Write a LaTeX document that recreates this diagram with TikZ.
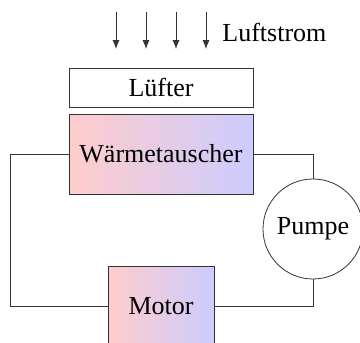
\documentclass[tikz,border=0pt]{standalone}
\usepackage{fontspec}
\setmainfont{Liberation Serif}
\usepackage{xcolor}
\usepackage{tikz}
\usetikzlibrary{arrows.meta}

\begin{document}
\begin{tikzpicture}[x=1pt,y=-1pt,line width=0.8pt,draw=black!80,
    every node/.style={font=\fontsize{26}{30}\selectfont},
    box/.style={draw=black!80,rectangle,minimum width=184pt},
    warm/.style={box,left color=red!20,right color=blue!20}]
    \useasboundingbox (0,0) rectangle (360,343);

    \node[box,minimum height=39pt] (luefter) at (161,87.5) {Lüfter};
    \node[warm,minimum height=80pt] (waerme) at (161,154) {Wärmetauscher};
    \node[draw=black!80,circle,minimum size=100pt,inner sep=0pt] (pumpe) at (313,229) {Pumpe};
    \node[warm,minimum width=106pt,minimum height=80pt] (motor) at (161,306) {Motor};
    \node[anchor=west,inner sep=0pt] (luft) at (222,32) {Luftstrom};

    \foreach \i/\x in {1/116,2/146,3/176,4/206} {
        \coordinate (o\i) at (\x,12);
        \coordinate (u\i) at (\x,49);
        \draw[-{Latex[length=9pt,width=7pt]}] (o\i) -- (u\i);
    }

    \coordinate (ecke) at (10,154);
    \draw (waerme.west) -- (ecke) |- (motor.west);
    \draw (waerme.east) -| (pumpe.north);
    \draw (motor.east) -| (pumpe.south);
\end{tikzpicture}
\end{document}
